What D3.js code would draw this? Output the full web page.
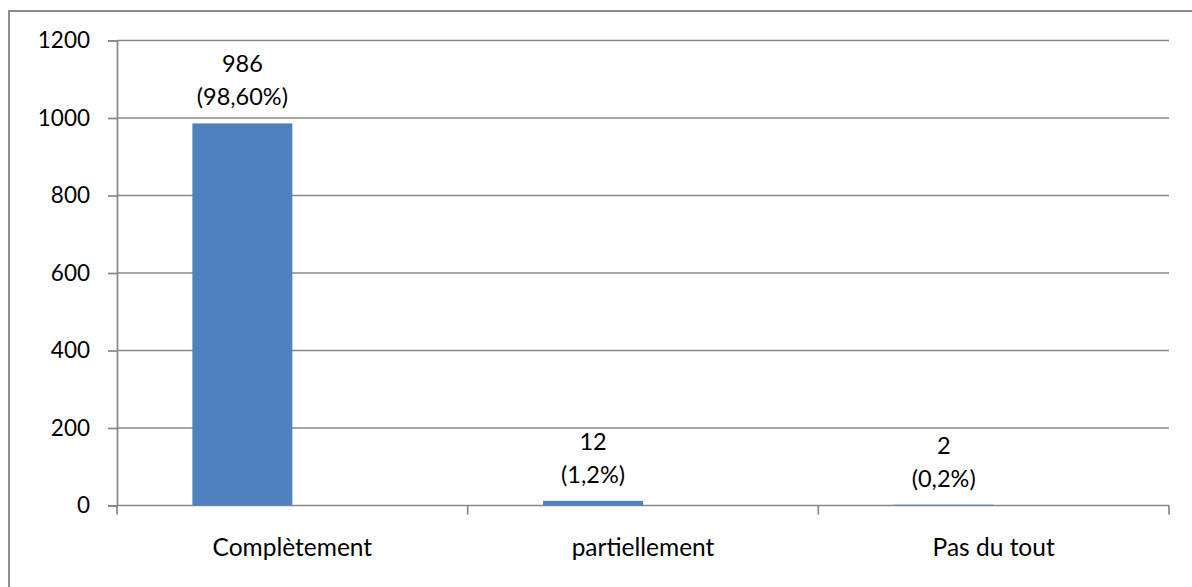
<!DOCTYPE html>
<html>
<head>
<meta charset="utf-8">
<script src="https://cdn.jsdelivr.net/npm/d3@7"></script>
<style>
  html, body { margin: 0; padding: 0; background: #fff; }
  svg { display: block; }
  text { font-family: Lato, "Open Sans", sans-serif; fill: #000; }
</style>
</head>
<body>
<svg id="chart" width="1192" height="587"></svg>
<script>
// Responses per answer
const categories = ["Complètement", "partiellement", "Pas du tout"];
const counts = [986, 12, 2];
const percentLabels = ["(98,60%)", "(1,2%)", "(0,2%)"];
const yTicks = [0, 200, 400, 600, 800, 1000, 1200];

const W = 1192, H = 587;
const plot = { left: 117, right: 1169, top: 40.5, bottom: 505.5 };
const tickFont = 22.5, catFont = 24.5, labelFont = 23.5;
const gridColor = "#878787";
const barColor = "#4F81BD";

const svg = d3.select("#chart");

// outer frame (extends beyond the visible area on the right and bottom)
svg.append("rect")
  .attr("x", 9).attr("y", 11)
  .attr("width", W + 20).attr("height", H + 20)
  .attr("fill", "none")
  .attr("stroke", "#8c8c8c")
  .attr("stroke-width", 2);

const x = d3.scaleBand()
  .domain(categories)
  .range([plot.left, plot.right])
  .paddingInner(0).paddingOuter(0);

const y = d3.scaleLinear()
  .domain([0, 1200])
  .range([plot.bottom, plot.top]);

// horizontal gridlines
svg.append("g")
  .selectAll("line")
  .data(yTicks.filter(d => d > 0))
  .join("line")
  .attr("x1", plot.left).attr("x2", plot.right)
  .attr("y1", d => y(d)).attr("y2", d => y(d))
  .attr("stroke", gridColor)
  .attr("stroke-width", 1.7);

// y axis
const yAxis = svg.append("g")
  .attr("transform", `translate(${plot.left},0)`)
  .call(d3.axisLeft(y).tickValues(yTicks).tickSize(9).tickPadding(18).tickFormat(d3.format("d")));
yAxis.select(".domain").attr("stroke", gridColor).attr("stroke-width", 1.7);
yAxis.selectAll(".tick line").attr("stroke", gridColor).attr("stroke-width", 1.7);
yAxis.selectAll(".tick text")
  .style("font-family", "Lato, 'Open Sans', sans-serif")
  .style("font-size", tickFont + "px")
  .attr("fill", "#000");

// x axis: ticks sit on the category boundaries
const boundaries = categories.map(c => x(c)).concat([plot.right]);
const xg = svg.append("g");
xg.append("line")
  .attr("x1", plot.left).attr("x2", plot.right)
  .attr("y1", plot.bottom).attr("y2", plot.bottom)
  .attr("stroke", gridColor).attr("stroke-width", 1.7);
xg.selectAll("line.tk")
  .data(boundaries)
  .join("line")
  .attr("class", "tk")
  .attr("x1", d => d).attr("x2", d => d)
  .attr("y1", plot.bottom).attr("y2", plot.bottom + 9)
  .attr("stroke", gridColor).attr("stroke-width", 1.7);
xg.selectAll("text")
  .data(categories)
  .join("text")
  .attr("x", d => x(d) + x.bandwidth() / 2)
  .attr("y", 556)
  .attr("text-anchor", "middle")
  .style("font-size", catFont + "px")
  .text(d => d);

// bars: each bar fills the left half of a slot centred in its category
const slotFrac = 0.57;
const barW = x.bandwidth() * slotFrac / 2;
const barX = d => x(d.cat) + x.bandwidth() / 2 - barW;
const data = categories.map((c, i) => ({ cat: c, value: counts[i], pct: percentLabels[i] }));

svg.append("g")
  .selectAll("rect")
  .data(data)
  .join("rect")
  .attr("x", barX)
  .attr("y", d => y(d.value))
  .attr("width", barW)
  .attr("height", d => plot.bottom - y(d.value))
  .attr("fill", barColor);

// value labels above bars
const labels = svg.append("g")
  .selectAll("text")
  .data(data)
  .join("text")
  .attr("text-anchor", "middle")
  .style("font-size", labelFont + "px");
labels.append("tspan")
  .attr("x", d => barX(d) + barW / 2)
  .attr("y", d => y(d.value) - 51)
  .text(d => d.value);
labels.append("tspan")
  .attr("x", d => barX(d) + barW / 2)
  .attr("y", d => y(d.value) - 18)
  .text(d => d.pct);
</script>
</body>
</html>
